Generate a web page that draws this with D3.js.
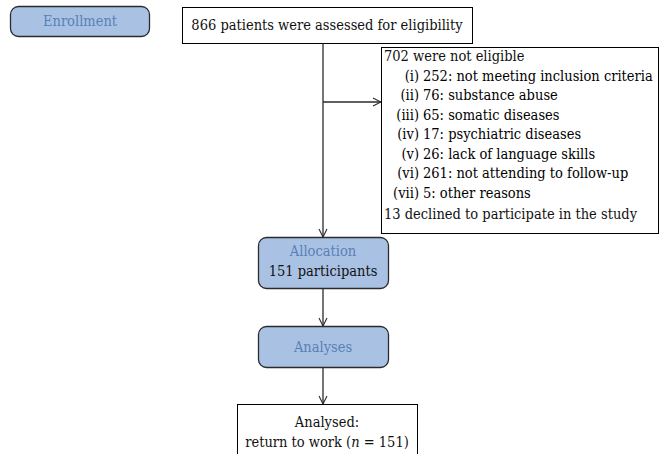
<!DOCTYPE html>
<html>
<head>
<meta charset="utf-8">
<script src="https://cdn.jsdelivr.net/npm/d3@7"></script>
<style>
  body { margin: 0; background: #fff; }
  svg { display: block; }
</style>
</head>
<body>
<script>
// flow counts
var assessedCount = 866;
var notEligibleCount = 702;
var declinedCount = 13;
var participantCount = 151;

// stage labels
var stageLabels = ["Enrollment", "Allocation", "Analyses"];

// exclusion breakdown
var exclusionCodes = ["(i)", "(ii)", "(iii)", "(iv)", "(v)", "(vi)", "(vii)"];
var exclusionCounts = [252, 76, 65, 17, 26, 261, 5];
var exclusionReasons = [
	"not meeting inclusion criteria",
	"substance abuse",
	"somatic diseases",
	"psychiatric diseases",
	"lack of language skills",
	"not attending to follow-up",
	"other reasons"
];

var width = 660, height = 454;
var blueFill = "#a9c2e4", stroke = "#2b2b2b";
var fontFamily = "'DejaVu Serif Condensed', 'DejaVu Serif', serif";
var fontSize = 14.5;

var svg = d3.select("body").append("svg")
	.attr("width", width)
	.attr("height", height)
	.attr("font-family", fontFamily)
	.attr("font-size", fontSize);

svg.append("defs").append("marker")
	.attr("id", "arrow")
	.attr("viewBox", "0 0 10 10")
	.attr("refX", 9).attr("refY", 5)
	.attr("markerWidth", 10).attr("markerHeight", 10)
	.attr("markerUnits", "userSpaceOnUse")
	.attr("orient", "auto")
	.append("path")
	.attr("d", "M1,1 L9,5 L1,9")
	.attr("fill", "none")
	.attr("stroke", stroke)
	.attr("stroke-width", 1.1);

var cx = 323;

function box(x, y, w, h, rounded) {
	svg.append("rect")
		.attr("x", x).attr("y", y)
		.attr("width", w).attr("height", h)
		.attr("rx", rounded ? 8 : 0)
		.attr("fill", rounded ? blueFill : "#fff")
		.attr("stroke", rounded ? stroke : "#000")
		.attr("stroke-width", rounded ? 1.3 : 1);
}

function label(x, y, txt, blue, anchor) {
	return svg.append("text")
		.attr("x", x).attr("y", y)
		.attr("fill", blue ? "#5a7fb6" : "#111")
		.attr("text-anchor", anchor || "middle")
		.attr("dominant-baseline", "central")
		.text(txt);
}

function arrow(x1, y1, x2, y2) {
	svg.append("line")
		.attr("x1", x1).attr("y1", y1)
		.attr("x2", x2).attr("y2", y2)
		.attr("stroke", stroke)
		.attr("stroke-width", 1.3)
		.attr("marker-end", "url(#arrow)");
}

//************ ENROLLMENT ************
box(10.5, 6.5, 139, 30, true);
label(80, 21, stageLabels[0], true);

box(182.5, 7.5, 290, 36, false);
label(327, 25, assessedCount + " patients were assessed for eligibility");

arrow(cx, 43.5, cx, 237);
arrow(cx, 102, 381, 102);

//************ EXCLUSION LIST ************
box(381.5, 47.5, 277, 186, false);

var lineY = d3.scaleLinear().domain([0, 8]).range([56, 212]);

label(384, lineY(0), notEligibleCount + " were not eligible", false, "start");

var items = svg.append("g").selectAll("g")
	.data(exclusionCodes)
	.join("g");
items.append("text")
	.attr("x", 419)
	.attr("y", function(d, i) { return lineY(i + 1); })
	.attr("text-anchor", "end")
	.attr("dominant-baseline", "central")
	.text(function(d) { return d; });
items.append("text")
	.attr("x", 423)
	.attr("y", function(d, i) { return lineY(i + 1); })
	.attr("dominant-baseline", "central")
	.text(function(d, i) { return exclusionCounts[i] + ": " + exclusionReasons[i]; });

label(384, lineY(8) + 2, declinedCount + " declined to participate in the study", false, "start");

//************ ALLOCATION / ANALYSES ************
box(258.5, 237.5, 130, 51, true);
label(cx, 251, stageLabels[1], true);
label(cx, 271, participantCount + " participants");

arrow(cx, 288.5, cx, 326);

box(258.5, 326.5, 130, 41, true);
label(cx, 347, stageLabels[2], true);

arrow(cx, 367.5, cx, 404);

box(237.5, 404.5, 180, 60, false);
label(cx + 4, 422, "Analysed:");
var last = label(cx + 4, 442, "return to work (");
last.append("tspan").attr("font-style", "italic").text("n");
last.append("tspan").text(" = " + participantCount + ")");
</script>
</body>
</html>
